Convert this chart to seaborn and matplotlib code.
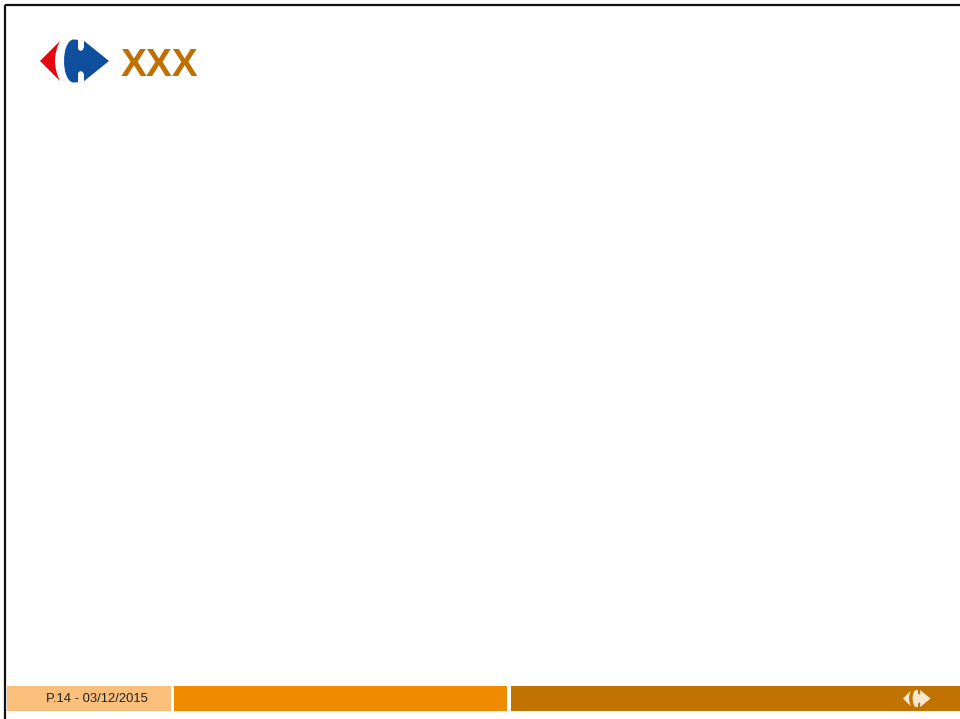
import matplotlib
matplotlib.use("Agg")
import matplotlib.pyplot as plt
from matplotlib.path import Path
from matplotlib.patches import PathPatch, Circle, Rectangle
import seaborn as sns

sns.set_theme(style="white")
plt.rcParams['font.family'] = ['Liberation Sans', 'DejaVu Sans']

# slide content
title = "XXX"
footer_label = "P.14 - 03/12/2015"

# footer band segments (left edge, right edge) in px
footer_starts = [7, 174, 511]
footer_ends = [171, 507, 960]
footer_colors = ['#F9BF7B', '#F08B00', '#C07300']

fig = plt.figure(figsize=(9.6, 7.19), dpi=100)
ax = fig.add_axes([0, 0, 1, 1])
ax.set_xlim(0, 960)
ax.set_ylim(719, 0)
ax.axis('off')

# slide frame (top and left edges)
ax.plot([5, 960], [5, 5], color='#111111', lw=1.6, solid_capstyle='butt')
ax.plot([5, 5], [5, 719], color='#111111', lw=1.6, solid_capstyle='butt')

# footer bars
widths = [e - s for s, e in zip(footer_starts, footer_ends)]
ax.barh([698.5] * 3, widths, left=footer_starts, height=25,
        color=footer_colors, edgecolor='none')
ax.text(97, 698.5, footer_label, fontsize=9.4, color='#222222',
        ha='center', va='center')


def draw_logo(ax, x0, yc, s, red, blue, bg):
    def P(pts):
        return [(x0 + px * s, yc + py * s) for px, py in pts]

    red_path = Path(P([(0, 0), (20, -20), (10, 0), (20, 20), (0, 0)]),
                    [Path.MOVETO, Path.LINETO, Path.CURVE3, Path.CURVE3, Path.CLOSEPOLY])
    ax.add_patch(PathPatch(red_path, facecolor=red, edgecolor='none'))

    # blue arrow with a rounded left body
    blue_path = Path(P([(33, -21.5), (43, -21), (69, 0), (43, 21), (33, 21.5),
                        (21, 19), (21, -19), (33, -21.5), (33, -21.5)]),
                     [Path.MOVETO, Path.LINETO, Path.LINETO, Path.LINETO,
                      Path.LINETO, Path.CURVE4, Path.CURVE4, Path.CURVE4,
                      Path.CLOSEPOLY])
    ax.add_patch(PathPatch(blue_path, facecolor=blue, edgecolor='none'))

    # white notches forming the letter C
    for sign in (-1, 1):
        top = yc - 23 * s if sign < 0 else yc + 13 * s
        ax.add_patch(Rectangle((x0 + 38 * s, top), 5.5 * s, 10 * s,
                               facecolor=bg, edgecolor='none'))
        ax.add_patch(Circle((x0 + 40.75 * s, yc + sign * 13 * s), 2.75 * s,
                            facecolor=bg, edgecolor='none'))


draw_logo(ax, 40, 61, 1.0, '#E30613', '#0E4F9E', 'white')
draw_logo(ax, 903, 698.5, 0.40, '#F6E7D2', '#F6E7D2', '#C07300')

ax.text(121, 75.5, title, fontsize=28, fontweight='bold', color='#C07000',
        ha='left', va='baseline')

fig.savefig('out.png', dpi=100)
